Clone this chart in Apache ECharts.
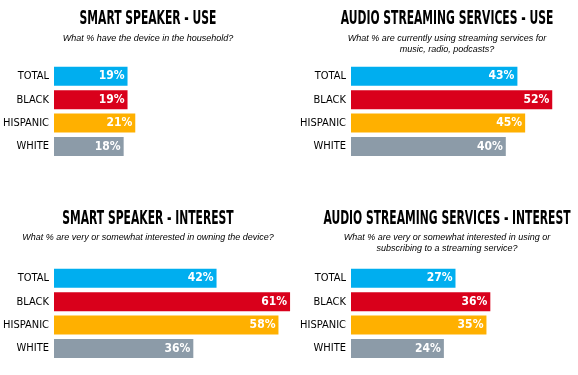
<!DOCTYPE html>
<html>
<head>
<meta charset="utf-8">
<script src="https://cdn.jsdelivr.net/npm/echarts@6/dist/echarts.min.js"></script>
<style>
  html, body { margin: 0; padding: 0; background: #fff; }
  #main { width: 578px; height: 375px; }
</style>
</head>
<body>
<div id="main"></div>
<script>
// 数据
var groups = ['TOTAL', 'BLACK', 'HISPANIC', 'WHITE'];
var speakerUse = [19, 19, 21, 18];
var streamingUse = [43, 52, 45, 40];
var speakerInterest = [42, 61, 58, 36];
var streamingInterest = [27, 36, 35, 24];
var colors = ['#00aeef', '#d9001b', '#ffb000', '#8c9ba8'];

var titles = [
    'SMART SPEAKER - USE',
    'AUDIO STREAMING SERVICES - USE',
    'SMART SPEAKER - INTEREST',
    'AUDIO STREAMING SERVICES - INTEREST'
];
var subtitles = [
    'What % have the device in the household?',
    'What % are currently using streaming services for\nmusic, radio, podcasts?',
    'What % are very or somewhat interested in owning the device?',
    'What % are very or somewhat interested in using or\nsubscribing to a streaming service?'
];

var narrow = "'DejaVu Sans Condensed', sans-serif";

var myChart = echarts.init(document.getElementById('main'));

// 每个面板的位置
var panels = [
    { left: 54,  top: 64.6,  cx: 148, ty: 10,  sy: 33 },
    { left: 351, top: 64.6,  cx: 447, ty: 10,  sy: 33 },
    { left: 54,  top: 266.6, cx: 148, ty: 210, sy: 232 },
    { left: 351, top: 266.6, cx: 447, ty: 210, sy: 232 }
];
var allData = [speakerUse, streamingUse, speakerInterest, streamingInterest];

var option = {
    animation: false,
    title: [],
    graphic: [],
    grid: [],
    xAxis: [],
    yAxis: [],
    series: []
};

panels.forEach(function (p, i) {
    // 标题用窄体（横向压缩）
    option.graphic.push({
        type: 'text',
        x: p.cx,
        y: p.ty,
        scaleX: 0.63,
        style: {
            text: titles[i],
            align: 'center',
            verticalAlign: 'top',
            fontFamily: narrow,
            fontWeight: 'bold',
            fontSize: 19,
            fill: '#000'
        }
    });
    option.title.push({
        text: subtitles[i],
        left: p.cx,
        top: p.sy,
        textAlign: 'center',
        padding: 0,
        textStyle: {
            fontFamily: "'Liberation Sans', sans-serif",
            fontStyle: 'italic',
            fontWeight: 'normal',
            fontSize: 9,
            lineHeight: 11,
            color: '#000'
        }
    });
    option.grid.push({
        left: p.left,
        top: p.top,
        width: 387,
        height: 93.6,
        outerBoundsMode: 'none',
        containLabel: false
    });
    option.xAxis.push({
        gridIndex: i,
        type: 'value',
        min: 0,
        max: 100,
        show: false
    });
    option.yAxis.push({
        gridIndex: i,
        type: 'category',
        inverse: true,
        data: groups,
        axisLine: { show: false },
        axisTick: { show: false },
        axisLabel: {
            margin: 5,
            fontFamily: narrow,
            fontSize: 11,
            color: '#000'
        }
    });
    option.series.push({
        type: 'bar',
        xAxisIndex: i,
        yAxisIndex: i,
        barWidth: 19,
        data: allData[i].map(function (v, k) {
            return { value: v, itemStyle: { color: colors[k] } };
        }),
        label: {
            show: true,
            position: 'insideRight',
            distance: 3,
            formatter: '{c}%',
            color: '#fff',
            fontFamily: narrow,
            fontWeight: 'bold',
            fontSize: 12
        }
    });
});

myChart.setOption(option);
</script>
</body>
</html>
